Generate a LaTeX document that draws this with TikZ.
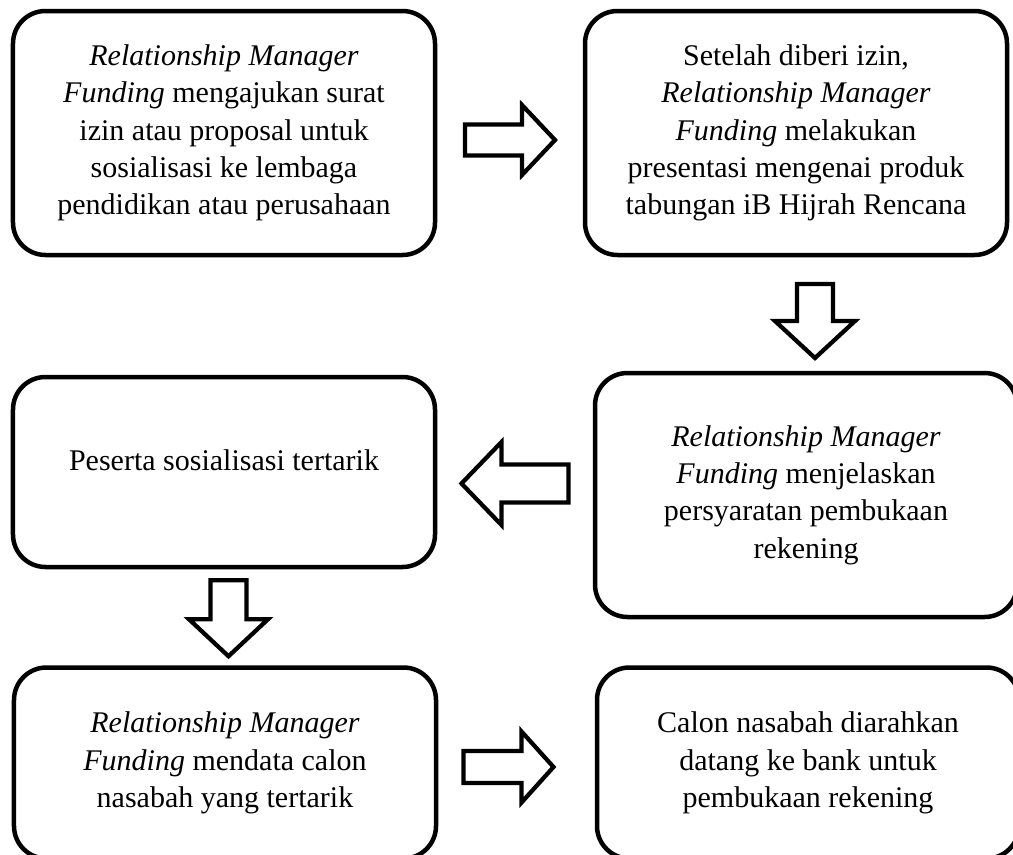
\documentclass[tikz,border=0pt]{standalone}
\usepackage{fontspec}
\setmainfont{Liberation Serif}
\usetikzlibrary{calc}

\begin{document}
\begin{tikzpicture}[
  x=0.4pt, y=-0.4pt,
  stepbox/.style={
    draw=black, line width=1.8pt, rounded corners=13pt,
    minimum width=168.8pt, minimum height=97.6pt,
    align=center, inner sep=0pt,
    font=\fontsize{12pt}{14.9pt}\selectfont
  },
  blkline/.style={draw=black, fill=white, line width=1.7pt, line join=miter},
  pics/blkarrow/.style n args={4}{code={
    \draw[blkline] (-#1/2,-#2/2) -- (#1/2-#4,-#2/2) -- (#1/2-#4,-#3/2)
      -- (#1/2,0) -- (#1/2-#4,#3/2) -- (#1/2-#4,#2/2) -- (-#1/2,#2/2) -- cycle;
  }}
]
\useasboundingbox (0,0) rectangle (1013,854);
\clip (0,0) rectangle (1013,854);

% top row
\node[stepbox] (izin) at (224,133)
  {\textit{Relationship Manager}\\ \textit{Funding} mengajukan surat\\
   izin atau proposal untuk\\ sosialisasi ke lembaga\\ pendidikan atau perusahaan};
\node[stepbox] (presentasi) at (796,133)
  {Setelah diberi izin,\\ \textit{Relationship Manager}\\ \textit{Funding} melakukan\\
   presentasi mengenai produk\\ tabungan iB Hijrah Rencana};

% middle row
\node[stepbox] (syarat) at (806,495)
  {\textit{Relationship Manager}\\ \textit{Funding} menjelaskan\\
   persyaratan pembukaan\\ rekening};
\node[stepbox, minimum height=76pt, text depth=9.8pt] (tertarik) at (224,472)
  {Peserta sosialisasi tertarik};

% bottom row (cut off by the page edge)
\node[stepbox, minimum height=76.4pt] (mendata) at (225,763)
  {\textit{Relationship Manager}\\ \textit{Funding} mendata calon\\ nasabah yang tertarik};
\node[stepbox, minimum height=76.4pt] (datang) at (808,763)
  {Calon nasabah diarahkan\\ datang ke bank untuk\\ pembukaan rekening};

% block arrows
\pic at ($(izin.east)!.5!(presentasi.west)+(0,7)$) {blkarrow={90}{31}{70}{33}};
\pic[rotate=-90] at ($(presentasi.south)!.5!(syarat.north)+(14,7)$) {blkarrow={74}{36}{80}{37}};
\pic[rotate=180] at ($(syarat.west)!.5!(tertarik.east)$) {blkarrow={107}{38}{83}{40}};
\pic[rotate=-90] at ($(tertarik.south)!.5!(mendata.north)+(4,1)$) {blkarrow={76}{36}{79}{37}};
\pic at ($(mendata.east)!.5!(datang.west)+(-8,4)$) {blkarrow={90}{32}{71}{32}};

\end{tikzpicture}
\end{document}
